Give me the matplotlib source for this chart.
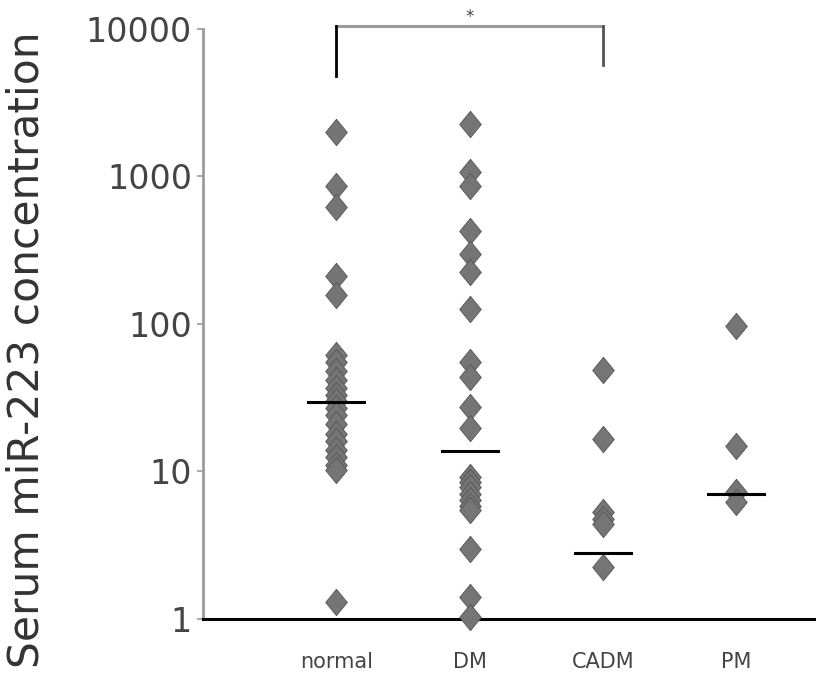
import numpy as np
import matplotlib
matplotlib.use('Agg')
import matplotlib.pyplot as plt
from matplotlib.ticker import FixedLocator, FixedFormatter

# datos
grupos = ['normal', 'DM', 'CADM', 'PM']
normal = [2000, 860, 620, 210, 157, 62, 55, 48, 42, 37, 33, 30, 27, 24, 21,
          18, 16, 14, 12.5, 11, 10.2, 1.3]
dm = [2270, 1080, 860, 430, 300, 225, 126, 55, 44, 27.5, 19.6, 9.2, 8.5,
      7.8, 7.0, 6.4, 5.8, 5.5, 3.0, 1.42, 1.03]
cadm = [48.8, 16.5, 5.3, 4.8, 4.4, 2.24]
pm = [97, 15, 7.3, 6.2]
medianas = [29.7, 13.8, 2.8, 7.0]
ticks_y = [1, 10, 100, 1000, 10000]
ticks_y_txt = ['1', '10', '100', '1000', '10000']

valores = [normal, dm, cadm, pm]

fig = plt.figure(figsize=(8.16, 6.89), dpi=100)
ax = fig.add_axes([0.249, 0.1016, 0.751, 0.8564])

# rombo un poco mas alto que ancho
rombo = [(0, 1), (0.82, 0), (0, -1), (-0.82, 0), (0, 1)]

for i, vals in enumerate(valores):
    x = np.full(len(vals), i + 1)
    ax.plot(x, vals, linestyle='none', marker=rombo, markersize=19,
            markerfacecolor='#757575', markeredgecolor='#555555',
            markeredgewidth=0.6, clip_on=False, zorder=3)
    ax.plot([i + 1 - 0.21, i + 1 + 0.21], [medianas[i], medianas[i]],
            color='black', lw=2.2, zorder=4)

ax.set_yscale('log')
ax.set_ylim(1, 10000)
ax.set_xlim(0, 4.6)

ax.yaxis.set_major_locator(FixedLocator(ticks_y))
ax.yaxis.set_major_formatter(FixedFormatter(ticks_y_txt))
ax.yaxis.set_minor_locator(FixedLocator([]))
ax.set_xticks(range(1, len(grupos) + 1))
ax.set_xticklabels(grupos)

ax.spines['top'].set_visible(False)
ax.spines['right'].set_visible(False)
ax.spines['left'].set_color('#9a9a9a')
ax.spines['left'].set_linewidth(2)
ax.spines['bottom'].set_color('black')
ax.spines['bottom'].set_linewidth(2.2)

ax.tick_params(axis='y', direction='out', length=4, width=1.2, color='#9a9a9a',
               labelsize=24, labelcolor='#444444', pad=4)
ax.tick_params(axis='x', length=0, labelsize=15, labelcolor='#444444', pad=24)

fig.text(0.033, 0.492, 'Serum miR-223 concentration', rotation=90,
         ha='center', va='center', fontsize=30.5, color='#333333')

# corchete de significancia entre normal y CADM
ax.plot([1, 3], [10500, 10500], color='#9a9a9a', lw=2.2, clip_on=False)
ax.plot([1, 1], [10500, 4800], color='black', lw=2, clip_on=False)
ax.plot([3, 3], [10500, 5700], color='#555555', lw=2, clip_on=False)
ax.text(2, 12000, '*', ha='center', va='center', fontsize=12, color='#444444')

fig.savefig('out.png', dpi=100)
